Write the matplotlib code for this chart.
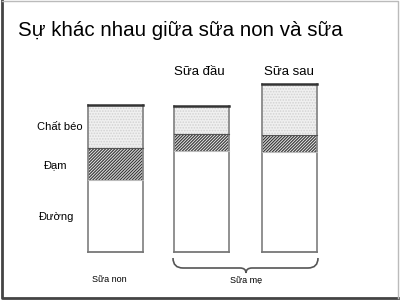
import matplotlib.pyplot as plt
from matplotlib.path import Path
from matplotlib.patches import PathPatch

plt.rcParams['font.family'] = ['Liberation Sans', 'DejaVu Sans']
plt.rcParams['hatch.linewidth'] = 0.8

# thanh phan (don vi tuong doi, doc tu hinh)
nhom = ['Sữa non', 'Sữa đầu', 'Sữa sau']
duong = [72, 101, 100]
dam = [32, 17, 17]
chat_beo = [43, 28, 51]
thanh_phan = ['Chất béo', 'Đạm', 'Đường']

x = [115, 201.5, 289.5]
w = 55
y0 = 48

fig = plt.figure(figsize=(4, 3), dpi=100)
ax = fig.add_axes([0, 0, 1, 1])
ax.set_xlim(0, 400)
ax.set_ylim(0, 300)
ax.axis('off')

# khung
ax.plot([2, 2, 398], [300, 2, 2], color='#444444', lw=2)
ax.plot([2, 398, 398], [299.5, 299.5, 2], color='#bbbbbb', lw=1)

b1 = [y0 + d for d in duong]
b2 = [b1[i] + dam[i] for i in range(3)]
ax.bar(x, duong, w, bottom=y0, color='white', lw=0)
ax.bar(x, dam, w, bottom=b1, color='#e4e4e4', edgecolor='#333333', hatch='/' * 11, lw=0)
ax.bar(x, chat_beo, w, bottom=b2, color='#f0f0f0', edgecolor='#d2d2d2', hatch='......', lw=0)

for i in range(3):
    top = b2[i] + chat_beo[i]
    l, r = x[i] - w / 2, x[i] + w / 2
    ax.plot([l, l], [y0, top], color='#888888', lw=1.3)
    ax.plot([r, r], [y0, top], color='#888888', lw=1.3)
    ax.plot([l, r], [y0, y0], color='#777777', lw=1.3)
    ax.plot([l, r], [top, top], color='#333333', lw=1.8)
    ax.plot([l, r], [b2[i], b2[i]], color='#555555', lw=0.8)
    ax.plot([l, r], [b1[i], b1[i]], color='#bbbbbb', lw=0.8)

# nhan
ax.text(18, 270, 'Sự khác nhau giữa sữa non và sữa', fontsize=14.8, va='center', ha='left')
ax.text(60, 173, thanh_phan[0], fontsize=8, ha='center', va='center')
ax.text(56, 135, thanh_phan[1], fontsize=8, ha='center', va='center')
ax.text(57, 83, thanh_phan[2], fontsize=8, ha='center', va='center')
ax.text(x[0] - 6, 20, nhom[0], fontsize=6.5, ha='center', va='center')
ax.text(x[1] - 2, 228, nhom[1], fontsize=9.5, ha='center', va='center')
ax.text(x[2] - 1, 228, nhom[2], fontsize=9.5, ha='center', va='center')
ax.text(246, 20, 'Sữa mẹ', fontsize=6.5, ha='center', va='center')

# ngoac nhon
xl, xr, xm = 173, 318, 246
yt, yb, ym = 42, 32, 27
verts = [(xl, yt), (xl, yb), (xl + 10, yb), (xm - 6, yb), (xm, yb), (xm, ym),
         (xm, yb), (xm + 6, yb), (xr - 10, yb), (xr, yb), (xr, yt)]
codes = [Path.MOVETO, Path.CURVE3, Path.CURVE3, Path.LINETO, Path.CURVE3, Path.CURVE3,
         Path.CURVE3, Path.CURVE3, Path.LINETO, Path.CURVE3, Path.CURVE3]
ax.add_patch(PathPatch(Path(verts, codes), fill=False, edgecolor='#555555', lw=1.2))

fig.savefig('out.png', dpi=100)
